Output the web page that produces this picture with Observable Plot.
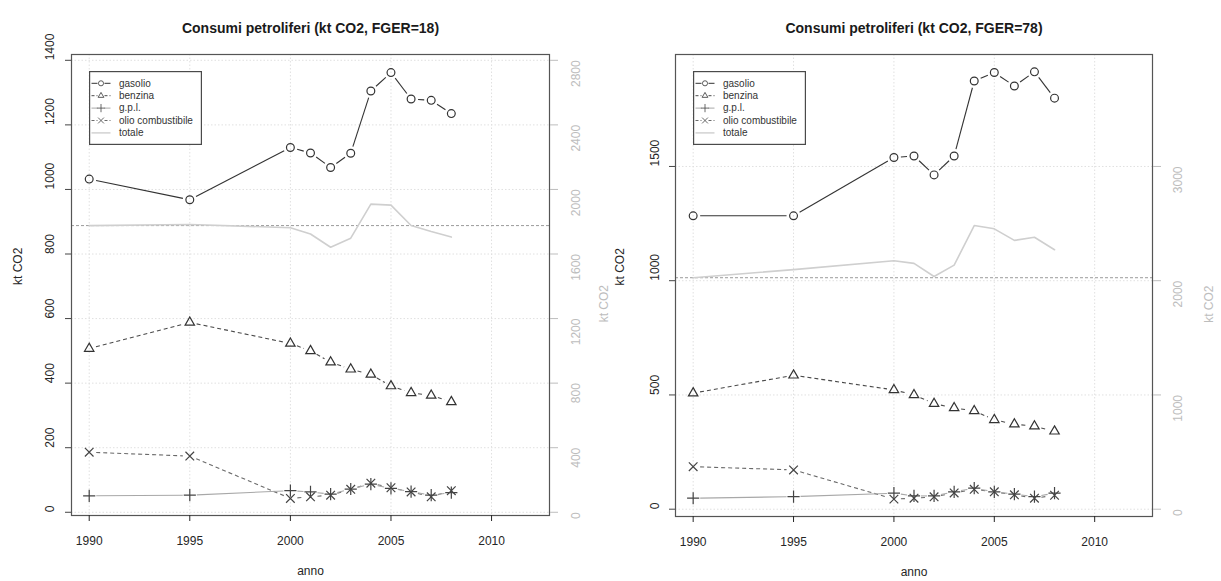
<!DOCTYPE html>
<html>
<head>
<meta charset="utf-8">
<script src="https://cdn.jsdelivr.net/npm/d3@7"></script>
<script src="https://cdn.jsdelivr.net/npm/@observablehq/plot@0.6"></script>
<style>
  html, body { margin: 0; padding: 0; background: #fff; }
  #wrap { position: relative; width: 1221px; height: 581px; overflow: hidden; font-family: "Liberation Sans", Arial, sans-serif; }
  .panel { position: absolute; top: 0; }
  .legend { position: absolute; }
</style>
</head>
<body>
<div id="wrap"></div>
<script>
// ---- data ----
const years = [1990, 1995, 2000, 2001, 2002, 2003, 2004, 2005, 2006, 2007, 2008];
const seriesNames = ["gasolio", "benzina", "g.p.l.", "olio combustibile", "totale"];

// FGER = 18 (left panel)
const gasolio18 = [1032, 968, 1130, 1113, 1068, 1112, 1305, 1362, 1280, 1276, 1235];
const benzina18 = [507, 588, 523, 500, 465, 443, 427, 391, 370, 362, 342];
const gpl18     = [51, 53, 67, 63, 56, 72, 87, 74, 64, 53, 61];
const olio18    = [186, 174, 43, 48, 53, 71, 90, 76, 63, 48, 67];
const totale18  = [1776, 1783, 1763, 1724, 1642, 1698, 1909, 1903, 1777, 1739, 1705];

// FGER = 78 (right panel)
const gasolio78 = [1284, 1284, 1539, 1546, 1463, 1546, 1874, 1911, 1852, 1914, 1799];
const benzina78 = [508, 586, 522, 500, 462, 443, 430, 391, 372, 363, 341];
const gpl78     = [48, 55, 70, 58, 58, 76, 92, 76, 66, 55, 70];
const olio78    = [186, 172, 44, 48, 54, 71, 87, 76, 63, 48, 61];
const totale78  = [2026, 2097, 2175, 2152, 2037, 2136, 2483, 2454, 2353, 2380, 2271];

// tick labels
const xTicks = [1990, 1995, 2000, 2005, 2010];
const yTicks18 = [0, 200, 400, 600, 800, 1000, 1200, 1400];
const yRightTicks18 = [0, 400, 800, 1200, 1600, 2000, 2400, 2800];
const yTicks78 = [0, 500, 1000, 1500];
const yRightTicks78 = [0, 1000, 2000, 3000];

const titles = ["Consumi petroliferi (kt CO2, FGER=18)", "Consumi petroliferi (kt CO2, FGER=78)"];

// ---- styles ----
const FONT = "'Liberation Sans', Arial, Helvetica, sans-serif";
const styles = {
  gas:  {stroke: "#333", dash: null, symbol: "circle", sym: "#333", r: 3.9},
  ben:  {stroke: "#4a4a4a", dash: "4,3", symbol: "triangle2", sym: "#333", r: 4.5},
  gpl:  {stroke: "#a8a8a8", dash: null, symbol: "plus", sym: "#444", r: 4},
  olio: {stroke: "#6a6a6a", dash: "4,3", symbol: "times", sym: "#444", r: 4},
};
const totColor = "#cfcfcf";
const lightAxis = "#bdbdbd";
const dark = "#262626";

function segments(vals) {
  return d3.pairs(years.map((x, i) => ({x, y: vals[i]})))
    .map(([a, b]) => ({x1: a.x, y1: a.y, x2: b.x, y2: b.y}));
}

function seriesMarks(vals, st) {
  const pts = years.map((x, i) => ({x, y: vals[i]}));
  return [
    Plot.arrow(segments(vals), {
      x1: "x1", y1: "y1", x2: "x2", y2: "y2",
      bend: 0, headLength: 0, inset: 7,
      stroke: st.stroke, strokeWidth: 1.1, strokeDasharray: st.dash ?? undefined,
      strokeLinecap: "butt"
    }),
    Plot.dot(pts, {x: "x", y: "y", symbol: st.symbol, r: st.r, stroke: st.sym, fill: "none", strokeWidth: 1.2})
  ];
}

function panel(cfg) {
  const ratio = cfg.yRight[1] / cfg.yTicks[1];
  const tot = years.map((x, i) => ({x, y: cfg.tot[i] / ratio}));
  return Plot.plot({
    width: cfg.width, height: 581,
    marginTop: 54, marginBottom: cfg.mB, marginLeft: cfg.mL, marginRight: cfg.mR,
    style: {fontFamily: FONT, fontSize: "12px", background: "transparent", color: dark, overflow: "visible"},
    x: {domain: [1989.12, 2012.88]},
    y: {domain: cfg.yDomain},
    marks: [
      Plot.gridX(xTicks, {stroke: "#e0e0e0", strokeOpacity: 1, strokeDasharray: "1.5,2"}),
      Plot.gridY(cfg.yTicks, {stroke: "#e0e0e0", strokeOpacity: 1, strokeDasharray: "1.5,2"}),
      Plot.ruleY([cfg.tot[0] / ratio], {stroke: "#9a9a9a", strokeDasharray: "3,2", strokeWidth: 1}),
      Plot.line(tot, {x: "x", y: "y", stroke: totColor, strokeWidth: 1.6}),
      ...seriesMarks(cfg.olio, styles.olio),
      ...seriesMarks(cfg.gpl, styles.gpl),
      ...seriesMarks(cfg.ben, styles.ben),
      ...seriesMarks(cfg.gas, styles.gas),
      Plot.frame({stroke: "#555", strokeWidth: 1.2}),
      // left axis: ticks + rotated labels
      Plot.axisY(cfg.yTicks, {anchor: "left", tickSize: 6, label: null, color: "#444", tickFormat: () => ""}),
      Plot.text(cfg.yTicks, {y: d => d, frameAnchor: "left", dx: cfg.labL, rotate: -90, text: d => String(d), fontSize: 12, fill: dark}),
      // right (secondary) axis for "totale"
      Plot.axisY(cfg.yTicks, {anchor: "right", tickSize: 8, label: null, color: lightAxis, tickFormat: () => ""}),
      Plot.text(cfg.yTicks, {y: d => d, frameAnchor: "right", dx: cfg.labR, rotate: -90, text: (d, i) => String(cfg.yRight[i]), fontSize: 12, fill: lightAxis}),
      Plot.axisX(xTicks, {anchor: "bottom", tickSize: 6, tickPadding: 15, label: null, color: dark, tickFormat: d => String(d)}),
      Plot.text([cfg.title], {frameAnchor: "top", dy: -31, fontWeight: "bold", fontSize: 14, fill: "#1a1a1a"}),
      Plot.text(["anno"], {frameAnchor: "bottom", dy: 59, fontSize: 12, fill: dark}),
      Plot.text(["kt CO2"], {frameAnchor: "left", dx: cfg.ktL, rotate: -90, fontSize: 12, fill: dark}),
      Plot.text(["kt CO2"], {frameAnchor: "right", dx: cfg.ktR, rotate: -90, fontSize: 12, fill: lightAxis})
    ]
  });
}

function legendSvg() {
  const w = 113, h = 74;
  const keys = [styles.gas, styles.ben, styles.gpl, styles.olio, null];
  const sym = {
    circle: d3.symbol(d3.symbolCircle, Math.PI * 3.2 * 3.2)(),
    triangle2: d3.symbol(d3.symbolTriangle2, Math.PI * 3.4 * 3.4)(),
    plus: d3.symbol(d3.symbolPlus, Math.PI * 3.4 * 3.4)(),
    times: d3.symbol(d3.symbolTimes, Math.PI * 3.4 * 3.4)()
  };
  let s = `<svg xmlns="http://www.w3.org/2000/svg" width="${w}" height="${h}" style="display:block;overflow:visible">`;
  s += `<rect x="0.6" y="0.6" width="${w - 1.2}" height="${h - 1.2}" fill="#fff" stroke="#4a4a4a" stroke-width="1.2"/>`;
  seriesNames.forEach((name, i) => {
    const y = 12.3 + i * 12.4;
    const st = keys[i];
    if (st) {
      const dash = st.dash ? `stroke-dasharray="3,2"` : "";
      s += `<line x1="2.5" x2="8.5" y1="${y}" y2="${y}" stroke="${st.stroke}" stroke-width="1" ${dash}/>`;
      s += `<line x1="15.5" x2="21.5" y1="${y}" y2="${y}" stroke="${st.stroke}" stroke-width="1" ${dash}/>`;
      s += `<path d="${sym[st.symbol]}" transform="translate(12,${y}) scale(0.8)" fill="none" stroke="${st.sym}" stroke-width="1"/>`;
    } else {
      s += `<line x1="2.5" x2="21.5" y1="${y}" y2="${y}" stroke="${totColor}" stroke-width="1.4"/>`;
    }
    s += `<text x="30" y="${y}" dy="0.33em" font-family="${FONT.replace(/'/g, "")}" font-size="10" fill="#333">${name}</text>`;
  });
  s += `</svg>`;
  return s;
}

const wrap = document.getElementById("wrap");

const left = panel({
  title: titles[0], width: 610, mL: 71, mR: 61, mB: 66,
  yDomain: [-10, 1418], yTicks: yTicks18, yRight: yRightTicks18,
  gas: gasolio18, ben: benzina18, gpl: gpl18, olio: olio18, tot: totale18,
  labL: -21, labR: 26.5, ktL: -53.5, ktR: 54.5
});
const right = panel({
  title: titles[1], width: 611, mL: 65, mR: 69, mB: 65,
  yDomain: [-32, 1990], yTicks: yTicks78, yRight: yRightTicks78,
  gas: gasolio78, ben: benzina78, gpl: gpl78, olio: olio78, tot: totale78,
  labL: -20.5, labR: 26, ktL: -55, ktR: 57
});

const d1 = document.createElement("div"); d1.className = "panel"; d1.style.left = "0px"; d1.appendChild(left);
const d2 = document.createElement("div"); d2.className = "panel"; d2.style.left = "610px"; d2.appendChild(right);
wrap.appendChild(d1); wrap.appendChild(d2);

const l1 = document.createElement("div"); l1.className = "legend"; l1.style.left = "89px"; l1.style.top = "71px"; l1.innerHTML = legendSvg();
const l2 = document.createElement("div"); l2.className = "legend"; l2.style.left = "693px"; l2.style.top = "71px"; l2.innerHTML = legendSvg();
wrap.appendChild(l1); wrap.appendChild(l2);
</script>
</body>
</html>
